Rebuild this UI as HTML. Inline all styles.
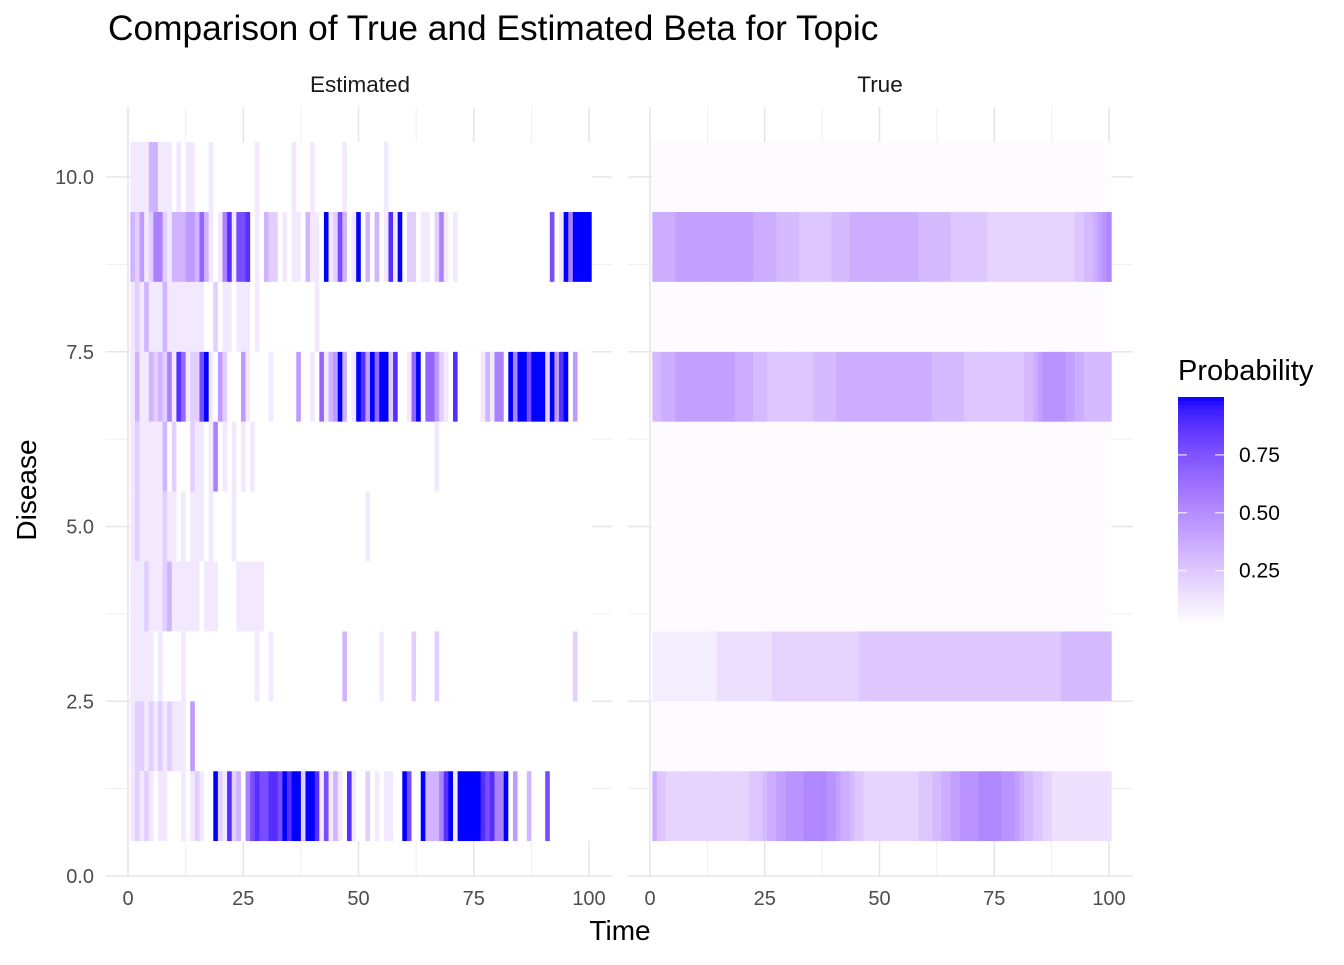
<!DOCTYPE html>
<html><head><meta charset="utf-8">
<style>
html,body{margin:0;padding:0;background:#fff;}
svg text{font-family:"Liberation Sans",Arial,sans-serif;}
</style></head>
<body>
<svg id="chart" width="1344" height="960" viewBox="0 0 1344 960" xmlns="http://www.w3.org/2000/svg">
<rect width="1344" height="960" fill="#fff"/>
<text x="108" y="40" font-size="35.3" fill="#000">Comparison of True and Estimated Beta for Topic</text>
<text x="360" y="92" font-size="22.5" fill="#1a1a1a" text-anchor="middle">Estimated</text>
<text x="880" y="92" font-size="22.5" fill="#1a1a1a" text-anchor="middle">True</text>
<text x="620" y="940" font-size="28" fill="#000" text-anchor="middle">Time</text>
<text x="0" y="0" font-size="28" fill="#000" text-anchor="middle" transform="translate(36,490) rotate(-90)">Disease</text>
<text x="1178" y="380" font-size="29" fill="#000">Probability</text>
<g id="grid"></g>
<g id="tiles"></g>
<g id="axes"></g>
<g id="legend"></g>
</svg>
<script>
// ---- data ----
const diseases = [1,2,3,4,5,6,7,8,9,10];
const times = Array.from({length:100},(_,i)=>i+1);
// Estimated: digit d -> value d/9 ; row order disease 1..10
const estimatedRows = [
 "1212101100"+"0101210092"+"1823057877"+"8879899299"+"8171310810"+"0201011009"+"7009333589"+"1999998785"+"5904003000"+"7000000000",
 "1221212121"+"1104000000"+"0000000000"+"0000000000"+"0000000000"+"0000000000"+"0000000000"+"0000000000"+"0000000000"+"0000000000",
 "1111101000"+"0100000000"+"0000000100"+"1000000000"+"0000003000"+"0000100000"+"0200002000"+"0000000000"+"0000000000"+"0000002000",
 "1112111231"+"1111101110"+"0001111110"+"0000000000"+"0000000000"+"0000000000"+"0000000000"+"0000000000"+"0000000000"+"0000000000",
 "1211111211"+"0101110100"+"0010000000"+"0000000000"+"0000000000"+"0100000000"+"0000000000"+"0000000000"+"0000000000"+"0000000000",
 "1211111302"+"0002110150"+"1010101000"+"0000000000"+"0000000000"+"0000000000"+"0000001000"+"0000000000"+"0000000000"+"0000000000",
 "1311323251"+"8612279104"+"2000410000"+"1000004001"+"0613493019"+"8496992800"+"1690664210"+"8000001315"+"5095997999"+"2948904000",
 "1213111311"+"1111110020"+"1101110100"+"0000000000"+"1000000000"+"0000000000"+"0000000000"+"0000000000"+"0000000000"+"0000000000",
 "3241255213"+"3344363101"+"5817780103"+"2201011031"+"1091273019"+"0303018190"+"2201102510"+"1000000000"+"0000000000"+"0701959999",
 "1111331110"+"1011000100"+"0000000100"+"0000010001"+"0000001000"+"0000010000"+"0000000000"+"0000000000"+"0000000000"+"0000000000"
];
// True: digit d -> value 0.035 + d*0.055
const trueRows = [
 "6443333333"+"3333333333"+"3444566778"+"8889999988"+"7665443333"+"3333333344"+"4556677888"+"8999998887"+"6554433222"+"2222222222",
 "0000000000"+"0000000000"+"0000000000"+"0000000000"+"0000000000"+"0000000000"+"0000000000"+"0000000000"+"0000000000"+"0000000000",
 "1111111111"+"1111222222"+"2222223333"+"3333333333"+"3333344444"+"4444444444"+"4444444444"+"4444444444"+"4444444445"+"5555555555",
 "0000000000"+"0000000000"+"0000000000"+"0000000000"+"0000000000"+"0000000000"+"0000000000"+"0000000000"+"0000000000"+"0000000000",
 "0000000000"+"0000000000"+"0000000000"+"0000000000"+"0000000000"+"0000000000"+"0000000000"+"0000000000"+"0000000000"+"0000000000",
 "0000000000"+"0000000000"+"0000000000"+"0000000000"+"0000000000"+"0000000000"+"0000000000"+"0000000000"+"0000000000"+"0000000000",
 "5566677777"+"7777777766"+"6655544444"+"4444455555"+"6666666666"+"6666666666"+"6555555544"+"4444444444"+"4556788888"+"7766555555",
 "0000000000"+"0000000000"+"0000000000"+"0000000000"+"0000000000"+"0000000000"+"0000000000"+"0000000000"+"0000000000"+"0000000000",
 "6666677777"+"7777777777"+"7766666555"+"5544444445"+"5556666666"+"6666666655"+"5555544444"+"4443333333"+"3333333333"+"3344556789",
 "0000000000"+"0000000000"+"0000000000"+"0000000000"+"0000000000"+"0000000000"+"0000000000"+"0000000000"+"0000000000"+"0000000000"
];
const yTickValues = [0,2.5,5,7.5,10];
const yTickLabels = ["0.0","2.5","5.0","7.5","10.0"];
const xTickValues = [0,25,50,75,100];
const xTickLabels = ["0","25","50","75","100"];
const legendTickValues = [0.25,0.5,0.75];
const legendTickLabels = ["0.25","0.50","0.75"];

// ---- scales ----
const NS="http://www.w3.org/2000/svg";
const panels=[{name:"estimated",x0:128,kx:4.61,left:106,right:612,rows:estimatedRows,conv:d=>d/9},
              {name:"true",x0:650,kx:4.59,left:628,right:1133,rows:trueRows,conv:d=>0.035+d*0.055}];
const yScale=v=>876-v*69.9;
function lab2rgb(L,a,b){let y=(L+16)/116,x=a/500+y,z=y-b/200;
 const f=t=>t*t*t>0.008856?t*t*t:(t-16/116)/7.787;
 x=0.95047*f(x);y=f(y);z=1.08883*f(z);
 let r=x*3.2406+y*-1.5372+z*-0.4986,g=x*-0.9689+y*1.8758+z*0.0415,bb=x*0.0557+y*-0.2040+z*1.0570;
 const c=v=>{v=v>0.0031308?1.055*Math.pow(v,1/2.4)-0.055:12.92*v;return Math.round(Math.max(0,Math.min(1,v))*255);};
 return `rgb(${c(r)},${c(g)},${c(bb)})`;}
const lo=[100,0,0],hi=[32.3,79.19,-107.86];
const vmin=0.02,vmax=1.0;
function color(v){let t=(v-vmin)/(vmax-vmin);t=Math.max(0,Math.min(1,t));
 return lab2rgb(lo[0]+(hi[0]-lo[0])*t,lo[1]+(hi[1]-lo[1])*t,lo[2]+(hi[2]-lo[2])*t);}
function mk(tag,attrs,parent){const e=document.createElementNS(NS,tag);for(const k in attrs)e.setAttribute(k,attrs[k]);parent.appendChild(e);return e;}

const grid=document.getElementById('grid'),tiles=document.getElementById('tiles'),axes=document.getElementById('axes'),legend=document.getElementById('legend');
panels.forEach(p=>{
 const xs=v=>p.x0+v*p.kx;
 [12.5,37.5,62.5,87.5].forEach(v=>{const l=mk('line',{x1:xs(v),x2:xs(v),y1:107,y2:877,stroke:'#ebebeb','stroke-width':0.8},grid);
  
  });
 [1.25,3.75,6.25,8.75].forEach(v=>{const l=mk('line',{x1:p.left,x2:p.right,y1:yScale(v),y2:yScale(v),stroke:'#ebebeb','stroke-width':0.8},grid);
  
  });
 xTickValues.forEach((v,i)=>{const l=mk('line',{x1:xs(v),x2:xs(v),y1:107,y2:877,stroke:'#e6e6e6','stroke-width':1.6},grid);
  
  
  const t=mk('text',{x:xs(v),y:905,'font-size':20,fill:'#4d4d4d','text-anchor':'middle'},axes);t.textContent=xTickLabels[i];
  
  });
 yTickValues.forEach(v=>{const l=mk('line',{x1:p.left,x2:p.right,y1:yScale(v),y2:yScale(v),stroke:'#e6e6e6','stroke-width':1.6},grid);
  
  });
 p.rows.forEach((row,ri)=>{
  const dz=diseases[ri];
  times.forEach((tm,ti)=>{
   const v=p.conv(+row[ti]);
   const r=mk('rect',{x:xs(tm-0.5),y:yScale(dz+0.5),width:p.kx+0.4,height:69.9,fill:color(v)},tiles);
   
   
  });
 });
});
yTickValues.forEach((v,i)=>{const t=mk('text',{x:94,y:yScale(v)+7,'font-size':20,fill:'#4d4d4d','text-anchor':'end'},axes);t.textContent=yTickLabels[i];
 
 });
const lbTop=397,lbBot=624,lx=1178,lw=46;
const lv=v=>lbBot-(v-vmin)/(vmax-vmin)*(lbBot-lbTop);
for(let i=0;i<60;i++){const v0=vmin+(vmax-vmin)*i/60,v1=vmin+(vmax-vmin)*(i+1)/60;
 const r=mk('rect',{x:lx,y:lv(v1),width:lw,height:lv(v0)-lv(v1)+0.5,fill:color((v0+v1)/2)},legend);
 
 }
legendTickValues.forEach((v,i)=>{
 mk('line',{x1:lx,x2:lx+9,y1:lv(v),y2:lv(v),stroke:'#fff','stroke-width':1},legend);
 mk('line',{x1:lx+lw-9,x2:lx+lw,y1:lv(v),y2:lv(v),stroke:'#fff','stroke-width':1},legend);
 const t=mk('text',{x:1239,y:lv(v)+7,'font-size':21,fill:'#000'},legend);t.textContent=legendTickLabels[i];
 
 });
</script>
</body></html>
